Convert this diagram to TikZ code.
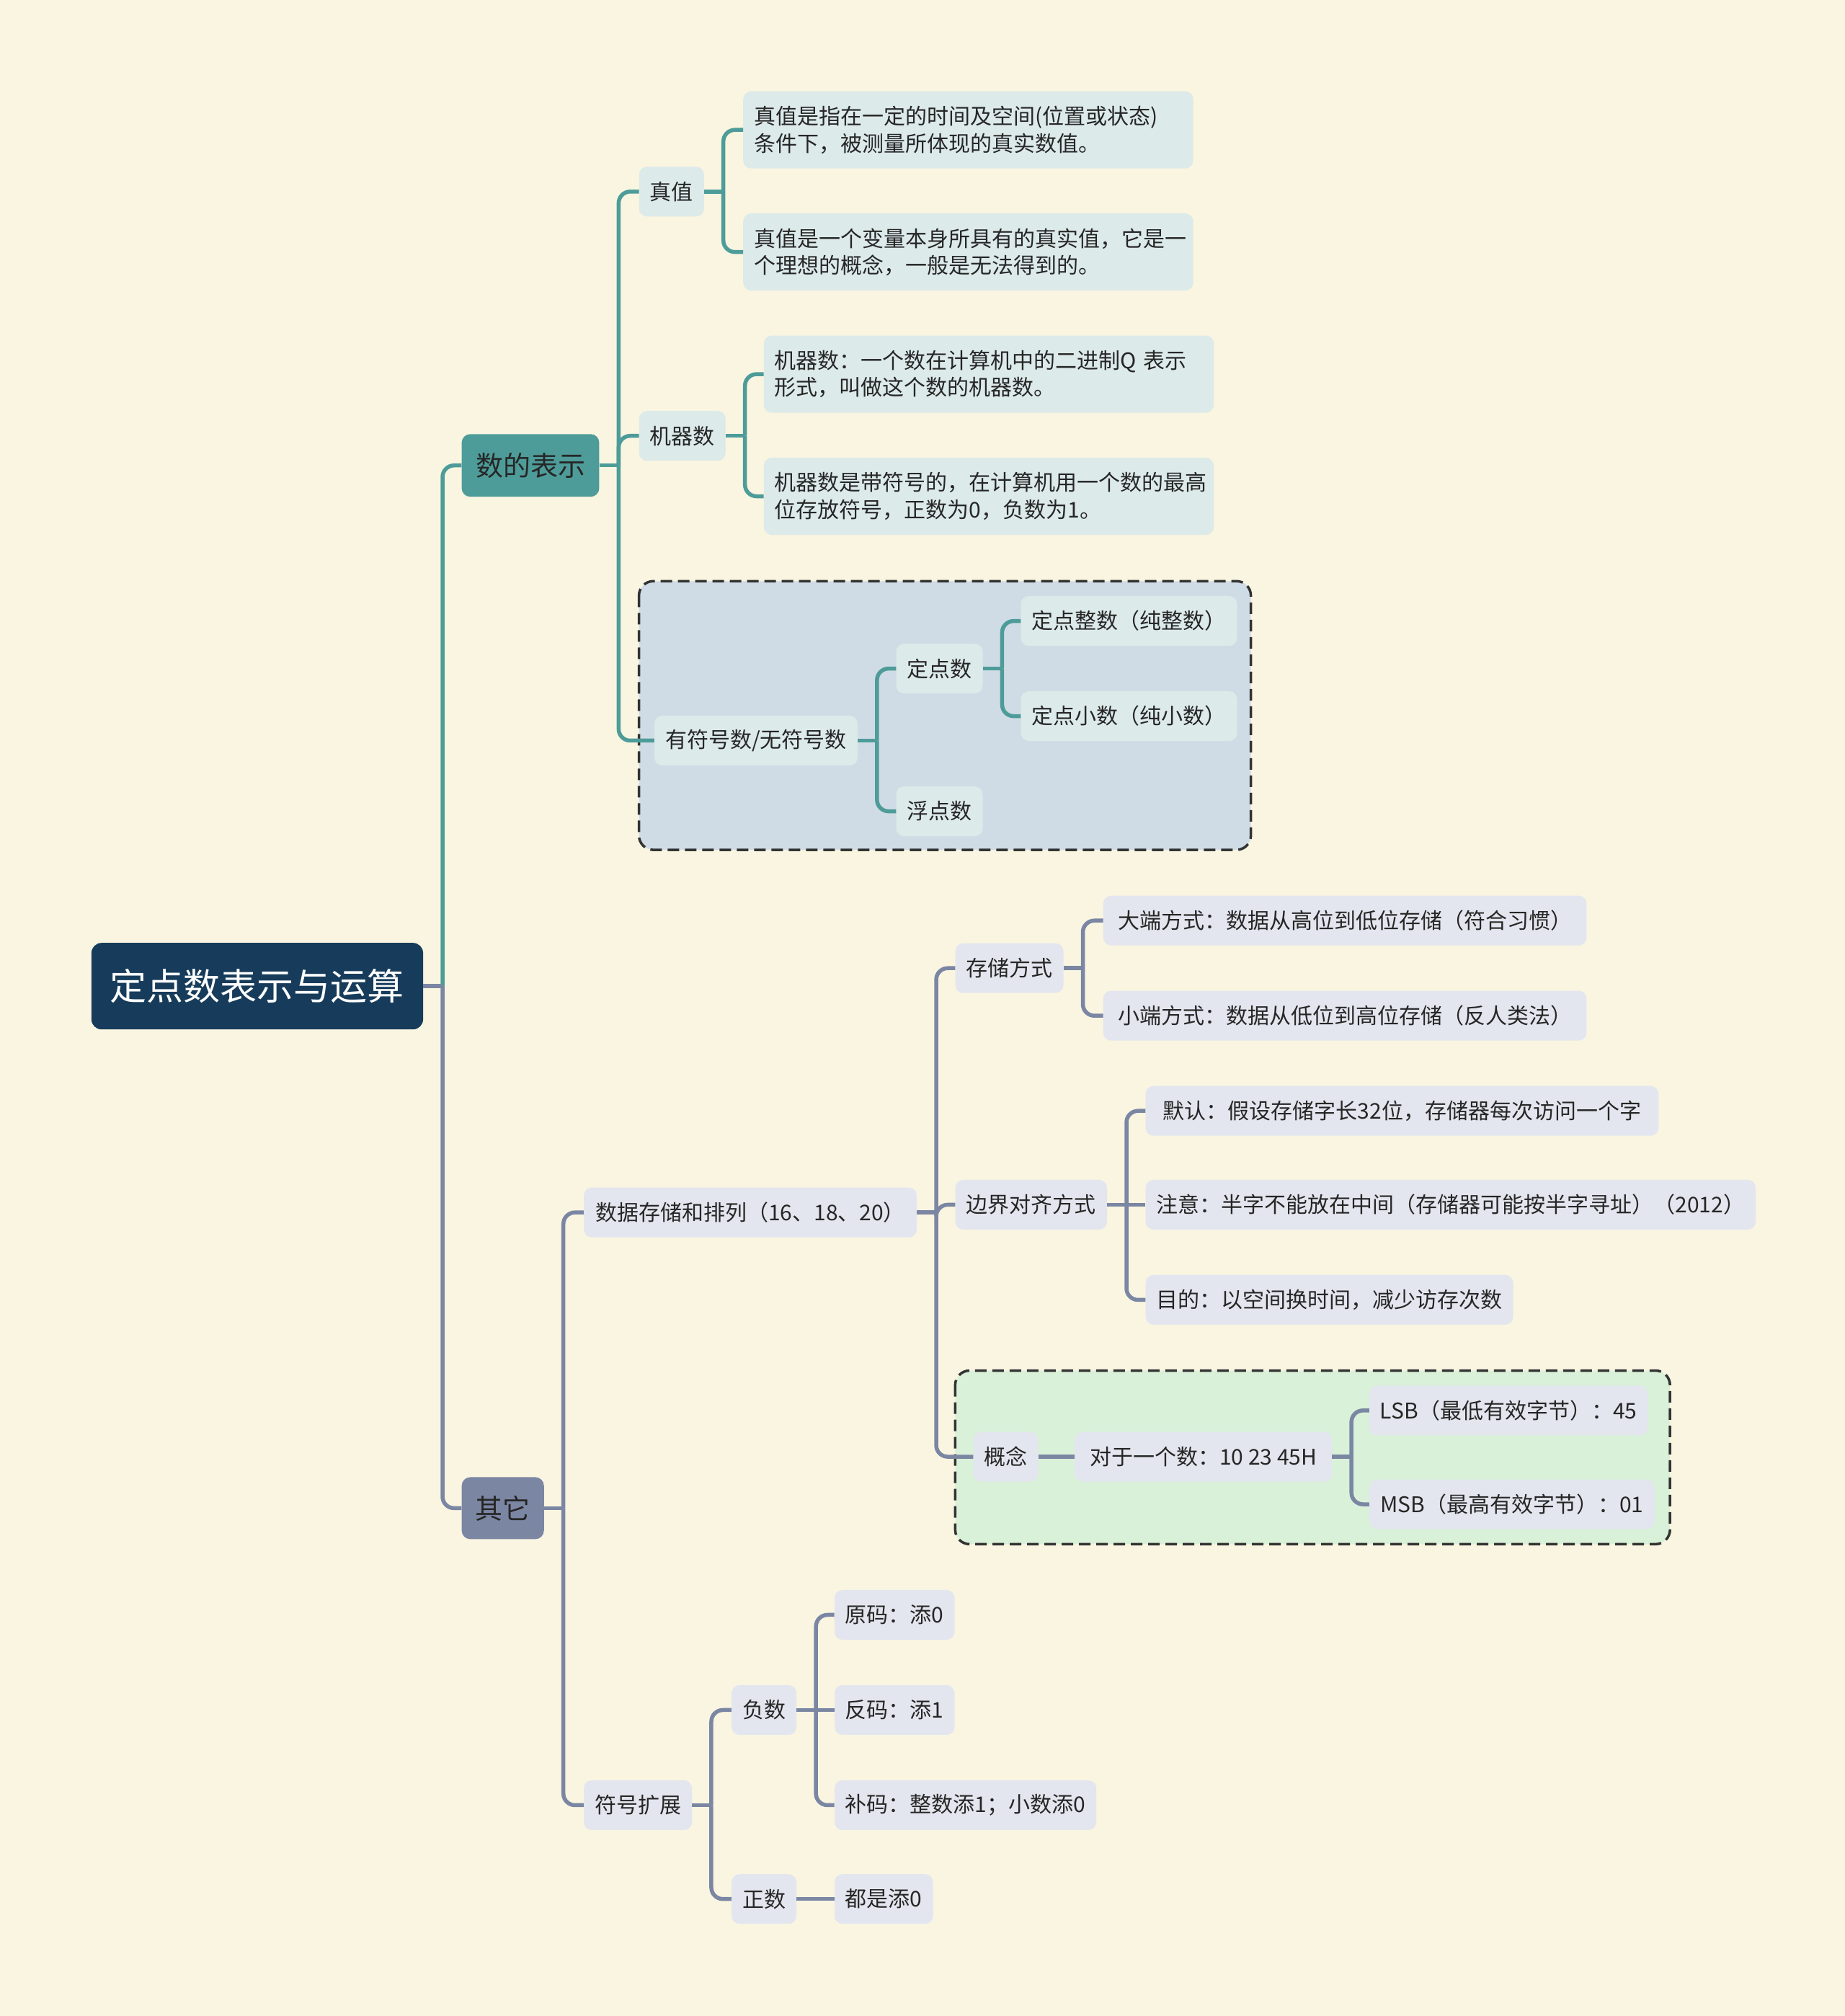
\documentclass[tikz,border=0pt]{standalone}
\usepackage{fontspec}
\setmainfont{Noto Sans CJK SC}
\definecolor{bgc}{HTML}{F9F5E1}
\definecolor{rootc}{HTML}{173C5B}
\definecolor{tealc}{HTML}{4E9C99}
\definecolor{tealbox}{HTML}{DCEAE9}
\definecolor{slatec}{HTML}{7B86A3}
\definecolor{slatebox}{HTML}{E3E6EE}
\definecolor{grpblue}{HTML}{D0DCE5}
\definecolor{grpgreen}{HTML}{D9F1D8}
\definecolor{txtc}{HTML}{262626}
\definecolor{dashc}{HTML}{333333}
\tikzset{
  base/.style={rounded corners=11pt, inner xsep=15pt, inner ysep=0pt, text=txtc, anchor=west,
    font=\fontsize{30pt}{37.5pt}\selectfont, minimum height=69pt},
  bw/.style={minimum width=#1*1.784pt},
  tbox/.style={base, fill=tealbox},
  sbox/.style={base, fill=slatebox},
  twoline/.style={base, fill=tealbox, align=left, text width=#1*1.784pt-30pt, minimum height=107pt},
  lvl/.style={rounded corners=12pt, inner xsep=18pt, inner ysep=0pt, text=txtc, anchor=west,
    font=\fontsize{38pt}{46pt}\selectfont, minimum height=87pt},
  tconn/.style={draw=tealc, line width=5.5pt, rounded corners=16pt},
  sconn/.style={draw=slatec, line width=5.5pt, rounded corners=16pt},
  grp/.style={line width=3.5pt, draw=dashc, dash pattern=on 16pt off 8pt, rounded corners=20pt},
}
\newcommand\mmlink[3]{\draw[#1] (#2.east) -- ++(15,0); \draw[#1] (#2.east) ++(15,0) |- (#3.west);}
\newcommand\mmstraight[3]{\draw[#1] (#2.east) -- (#3.west);}
\begin{document}
\begin{tikzpicture}[x=1.784pt,y=-1.784pt]
\fill[bgc] (0,0) rectangle (1435,1568);
\useasboundingbox (0,0) rectangle (1435,1568);
% groups
\draw[grp, fill=grpblue] (497,452) rectangle (973,661);
\draw[grp, fill=grpgreen] (743,1066) rectangle (1299,1201);
% root and level 1
\node[rounded corners=14pt, fill=rootc, text=white, anchor=west, inner xsep=20pt, inner ysep=0pt,
  font=\fontsize{51pt}{60pt}\selectfont, minimum height=120pt, bw=258] (root) at (71,767) {定点数表示与运算};
\node[lvl, fill=tealc, bw=107] (n1) at (359,362) {数的表示};
\node[lvl, fill=slatec, minimum height=86pt, bw=64] (n2) at (359,1173) {其它};
% branch 1
\node[tbox, bw=50] (a1) at (497,149) {真值};
\node[twoline=350, bw=350] (a1x) at (578,101) {真值是指在一定的时间及空间(位置或状态)\\条件下，被测量所体现的真实数值。};
\node[twoline=350, bw=350] (a1y) at (578,196) {真值是一个变量本身所具有的真实值，它是一\\个理想的概念，一般是无法得到的。};
\node[tbox, bw=67] (a2) at (497,339) {机器数};
\node[twoline=350, bw=350] (a2x) at (594,291) {机器数：一个数在计算机中的二进制Q~表示\\形式，叫做这个数的机器数。};
\node[twoline=350, bw=350] (a2y) at (594,386) {机器数是带符号的，在计算机用一个数的最高\\位存放符号，正数为0，负数为1。};
\node[tbox, bw=157] (a3) at (509,576) {有符号数/无符号数};
\node[tbox, bw=67] (a3a) at (697,520) {定点数};
\node[tbox, bw=167] (a3a1) at (794,483) {定点整数（纯整数）};
\node[tbox, bw=167] (a3a2) at (794,557) {定点小数（纯小数）};
\node[tbox, bw=67] (a3b) at (697,631) {浮点数};
% branch 2
\node[sbox, bw=259] (b1) at (454,943) {数据存储和排列（16、18、20）};
\node[sbox, bw=84] (b1a) at (743,753) {存储方式};
\node[sbox, bw=376] (b1a1) at (858,716) {大端方式：数据从高位到低位存储（符合习惯）};
\node[sbox, bw=376] (b1a2) at (858,790) {小端方式：数据从低位到高位存储（反人类法）};
\node[sbox, bw=118] (b1b) at (743,937) {边界对齐方式};
\node[sbox, bw=399] (b1b1) at (891,864) {默认：假设存储字长32位，存储器每次访问一个字};
\node[sbox, bw=472] (b1b2) at (891,937) {注意：半字不能放在中间（存储器可能按半字寻址）（2012）};
\node[sbox, bw=283] (b1b3) at (891,1011) {目的：以空间换时间，减少访存次数};
\node[sbox, bw=48] (b1c) at (757,1133) {概念};
\node[sbox, bw=200] (b1c1) at (836,1133) {对于一个数：10 23 45H};
\node[sbox, bw=215] (b1c1a) at (1065,1097) {LSB（最低有效字节）：45};
\node[sbox, bw=222] (b1c1b) at (1065,1170) {MSB（最高有效字节）：01};
\node[sbox, bw=84] (b2) at (454,1404) {符号扩展};
\node[sbox, bw=49] (b2a) at (569,1330) {负数};
\node[sbox, bw=93] (b2a1) at (649,1256) {原码：添0};
\node[sbox, bw=93] (b2a2) at (649,1330) {反码：添1};
\node[sbox, bw=203] (b2a3) at (649,1404) {补码：整数添1；小数添0};
\node[sbox, bw=49] (b2b) at (569,1477) {正数};
\node[sbox, bw=76] (b2b1) at (649,1477) {都是添0};
% connectors
\mmlink{tconn}{root}{n1}
\mmlink{sconn}{root}{n2}
\mmlink{tconn}{n1}{a1}
\mmlink{tconn}{n1}{a2}
\mmlink{tconn}{n1}{a3}
\mmlink{tconn}{a1}{a1x}
\mmlink{tconn}{a1}{a1y}
\mmlink{tconn}{a2}{a2x}
\mmlink{tconn}{a2}{a2y}
\mmlink{tconn}{a3}{a3a}
\mmlink{tconn}{a3}{a3b}
\mmlink{tconn}{a3a}{a3a1}
\mmlink{tconn}{a3a}{a3a2}
\mmlink{sconn}{n2}{b1}
\mmlink{sconn}{n2}{b2}
\mmlink{sconn}{b1}{b1a}
\mmlink{sconn}{b1}{b1b}
\mmlink{sconn}{b1}{b1c}
\mmlink{sconn}{b1a}{b1a1}
\mmlink{sconn}{b1a}{b1a2}
\mmlink{sconn}{b1b}{b1b1}
\mmstraight{sconn}{b1b}{b1b2}
\mmlink{sconn}{b1b}{b1b3}
\mmstraight{sconn}{b1c}{b1c1}
\mmlink{sconn}{b1c1}{b1c1a}
\mmlink{sconn}{b1c1}{b1c1b}
\mmlink{sconn}{b2}{b2a}
\mmlink{sconn}{b2}{b2b}
\mmlink{sconn}{b2a}{b2a1}
\mmstraight{sconn}{b2a}{b2a2}
\mmlink{sconn}{b2a}{b2a3}
\mmstraight{sconn}{b2b}{b2b1}
\end{tikzpicture}
\end{document}
